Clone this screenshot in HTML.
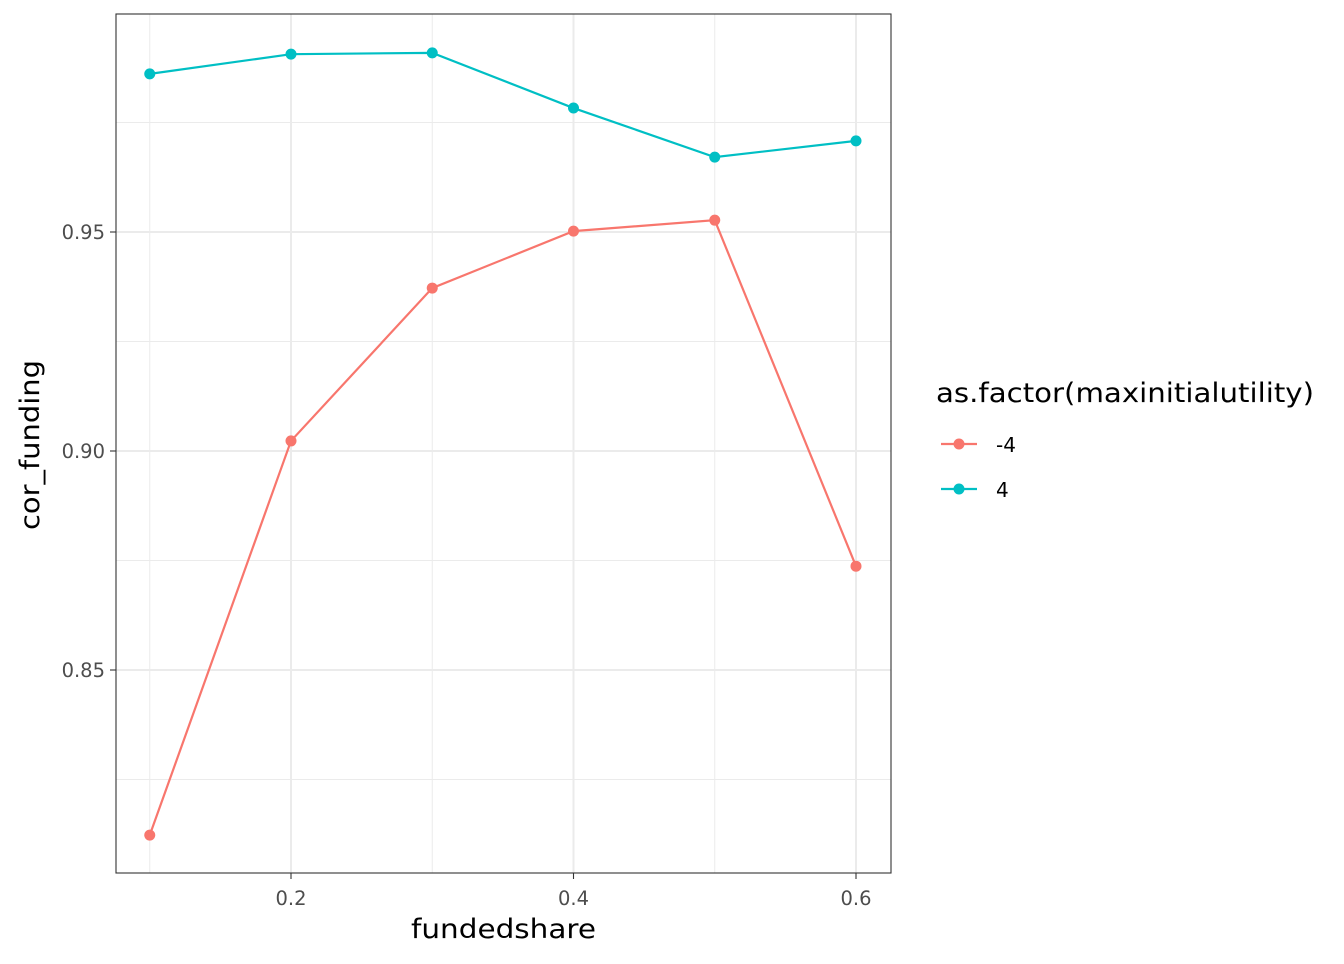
<!DOCTYPE html>
<html><head><meta charset="utf-8"><style>
body{margin:0;background:#fff;font-family:"DejaVu Sans","Liberation Sans",sans-serif;}
</style></head><body>
<svg id="c" width="1344" height="960" xmlns="http://www.w3.org/2000/svg"></svg>
<script>
const xVals=[0.1,0.2,0.3,0.4,0.5,0.6];
const seriesNeg4=[0.8123,0.9023,0.9372,0.9502,0.9527,0.8737];
const seriesPos4=[0.9861,0.9906,0.9909,0.9783,0.9671,0.9708];
const xTicks=[0.2,0.4,0.6];
const xMinor=[0.1,0.3,0.5];
const yTicks=[0.85,0.90,0.95];
const yMinor=[0.825,0.875,0.925,0.975];
const seriesNames=["-4","4"];
const colors=["#F8766D","#00BFC4"];
const L=116,R=891,T=14,B=873;
const sx=v=>291+(v-0.2)*1412.5;
const sy=v=>451-(v-0.90)*4380;
const s=document.getElementById('c');
const NS="http://www.w3.org/2000/svg";
function el(t,a,p){const e=document.createElementNS(NS,t);for(const k in a)e.setAttribute(k,a[k]);(p||s).appendChild(e);return e;}
el('rect',{x:L,y:T,width:R-L,height:B-T,fill:'#fff'});
xMinor.forEach(v=>{const e=el('line',{x1:sx(v),x2:sx(v),y1:T,y2:B,stroke:'#ebebeb','stroke-width':1});});
yMinor.forEach(v=>{const e=el('line',{x1:L,x2:R,y1:sy(v),y2:sy(v),stroke:'#ebebeb','stroke-width':1});});
xTicks.forEach(v=>{const e=el('line',{x1:sx(v),x2:sx(v),y1:T,y2:B,stroke:'#ebebeb','stroke-width':2});
el('line',{x1:sx(v),x2:sx(v),y1:B,y2:B+6,stroke:'#333','stroke-width':1.1});
const t=el('text',{x:sx(v),y:B+32,'text-anchor':'middle','font-size':19.5,fill:'#4d4d4d'});t.textContent=v.toFixed(1);});
yTicks.forEach(v=>{const e=el('line',{x1:L,x2:R,y1:sy(v),y2:sy(v),stroke:'#ebebeb','stroke-width':2});
el('line',{x1:L-6,x2:L,y1:sy(v),y2:sy(v),stroke:'#333','stroke-width':1.1});
const t=el('text',{x:L-11,y:sy(v)+7,'text-anchor':'end','font-size':19.5,fill:'#4d4d4d'});t.textContent=v.toFixed(2);});
[seriesNeg4,seriesPos4].forEach((ser,i)=>{
const p=el('polyline',{points:ser.map((v,j)=>sx(xVals[j])+','+sy(v)).join(' '),fill:'none',stroke:colors[i],'stroke-width':2.2});

ser.forEach((v,j)=>{const c=el('circle',{cx:sx(xVals[j]),cy:sy(v),r:5.5,fill:colors[i]});});
});
const fr=el('rect',{x:L,y:T,width:R-L,height:B-T,fill:'none',stroke:'#333','stroke-width':1.1});

let t=el('text',{x:411,y:938,'font-size':27,fill:'#000',textLength:185,lengthAdjust:'spacingAndGlyphs'});t.textContent='fundedshare';
t=el('text',{x:0,y:0,'font-size':27,fill:'#000',textLength:170,lengthAdjust:'spacingAndGlyphs',transform:'translate(39,530) rotate(-90)'});t.textContent='cor_funding';
t=el('text',{x:936,y:402,'font-size':27,fill:'#000',textLength:378,lengthAdjust:'spacingAndGlyphs'});t.textContent='as.factor(maxinitialutility)';
[444,489].forEach((y,i)=>{const g=el('g',{});
el('line',{x1:941,x2:977,y1:y,y2:y,stroke:colors[i],'stroke-width':2.2},g);
el('circle',{cx:959,cy:y,r:5.5,fill:colors[i]},g);
const tt=el('text',{x:996,y:y+8,'font-size':20,fill:'#000'},g);tt.textContent=seriesNames[i];});
</script>
</body></html>
